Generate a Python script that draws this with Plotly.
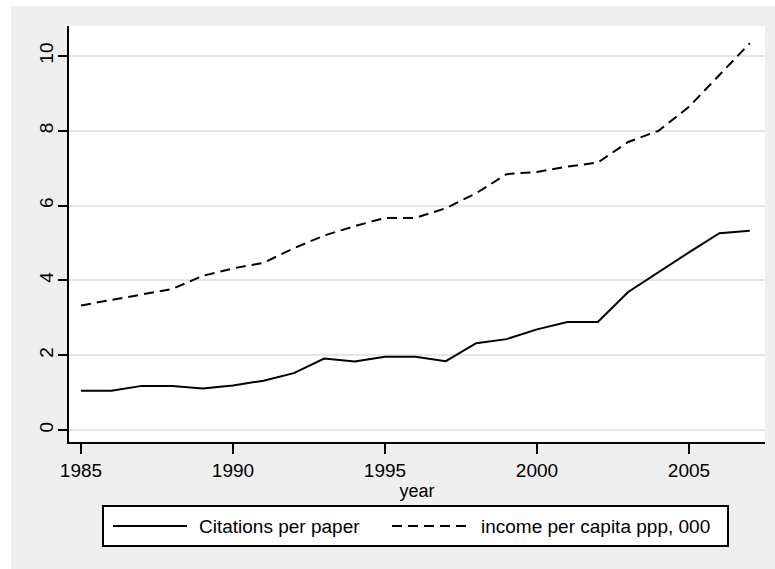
import plotly.graph_objects as go

# Annual series, 1985-2007
years = list(range(1985, 2008))
citations = [1.05, 1.05, 1.18, 1.18, 1.11, 1.19, 1.32, 1.52, 1.91, 1.83, 1.96, 1.96,
             1.84, 2.32, 2.43, 2.69, 2.89, 2.89, 3.69, 4.23, 4.75, 5.26, 5.33]
income = [3.33, 3.48, 3.64, 3.77, 4.12, 4.32, 4.47, 4.86, 5.20, 5.45, 5.67, 5.67,
          5.93, 6.33, 6.84, 6.90, 7.04, 7.15, 7.70, 8.00, 8.64, 9.49, 10.34]

series_names = ["Citations per paper", "income per capita ppp, 000"]
x_ticks = [1985, 1990, 1995, 2000, 2005]
y_ticks = [0, 2, 4, 6, 8, 10]
x_title = "year"

W, H = 775, 569
L, R, T, B = 69, 765, 26, 442  # plot region in pixels
FONT = "Liberation Sans, Arial, sans-serif"
BG = "#efefef"
GRID = "#e6e6e6"
DASH = "10px,6px"


def px(x):
    return (x - L) / (R - L)


def py(y):
    return (B - y) / (B - T)


fig = go.Figure()
fig.add_trace(go.Scatter(x=years, y=citations, mode="lines", name=series_names[0],
                         line=dict(color="black", width=2)))
fig.add_trace(go.Scatter(x=years, y=income, mode="lines", name=series_names[1],
                         line=dict(color="black", width=2, dash=DASH)))

shapes = [
    # white page strips around the gray graph region
    dict(type="rect", xref="paper", yref="paper", x0=px(0), x1=px(11), y0=py(H), y1=py(0),
         fillcolor="white", line=dict(width=0), layer="below"),
    dict(type="rect", xref="paper", yref="paper", x0=px(0), x1=px(W), y0=py(6), y1=py(0),
         fillcolor="white", line=dict(width=0), layer="below"),
    # legend box
    dict(type="rect", xref="paper", yref="paper", x0=px(103), x1=px(728), y0=py(546), y1=py(506),
         fillcolor="white", line=dict(color="black", width=2)),
    # legend keys
    dict(type="line", xref="paper", yref="paper", x0=px(113), x1=px(187), y0=py(526), y1=py(526),
         line=dict(color="black", width=2)),
    dict(type="line", xref="paper", yref="paper", x0=px(392), x1=px(467), y0=py(526), y1=py(526),
         line=dict(color="black", width=2, dash=DASH)),
]

annotations = [
    dict(xref="paper", yref="paper", x=px(197), y=py(526), text=series_names[0],
         showarrow=False, xanchor="left", yanchor="middle",
         font=dict(family=FONT, size=19, color="black")),
    dict(xref="paper", yref="paper", x=px(479), y=py(526), text=series_names[1],
         showarrow=False, xanchor="left", yanchor="middle",
         font=dict(family=FONT, size=19, color="black")),
]

fig.update_layout(
    width=W, height=H,
    margin=dict(l=L, r=W - R, t=T, b=H - B, pad=0),
    paper_bgcolor=BG, plot_bgcolor="white",
    showlegend=False,
    font=dict(family=FONT, size=19, color="black"),
    shapes=shapes, annotations=annotations,
    xaxis=dict(
        range=[1984.605, 2007.5], tickvals=x_ticks, ticktext=[str(v) for v in x_ticks],
        showgrid=False, zeroline=False, showline=True, linecolor="black", linewidth=2,
        ticks="outside", ticklen=10, tickwidth=2, tickcolor="black",
        title=dict(text=x_title, standoff=0, font=dict(size=18)),
    ),
    yaxis=dict(
        range=[-0.32, 10.8], tickvals=y_ticks, ticktext=[str(v) for v in y_ticks],
        showgrid=True, gridcolor=GRID, gridwidth=2, zeroline=False,
        showline=True, linecolor="black", linewidth=2,
        ticks="outside", ticklen=9, tickwidth=2, tickcolor="black", tickangle=-90,
        ticklabelstandoff=-3,
    ),
)

fig.write_html("out.html")
